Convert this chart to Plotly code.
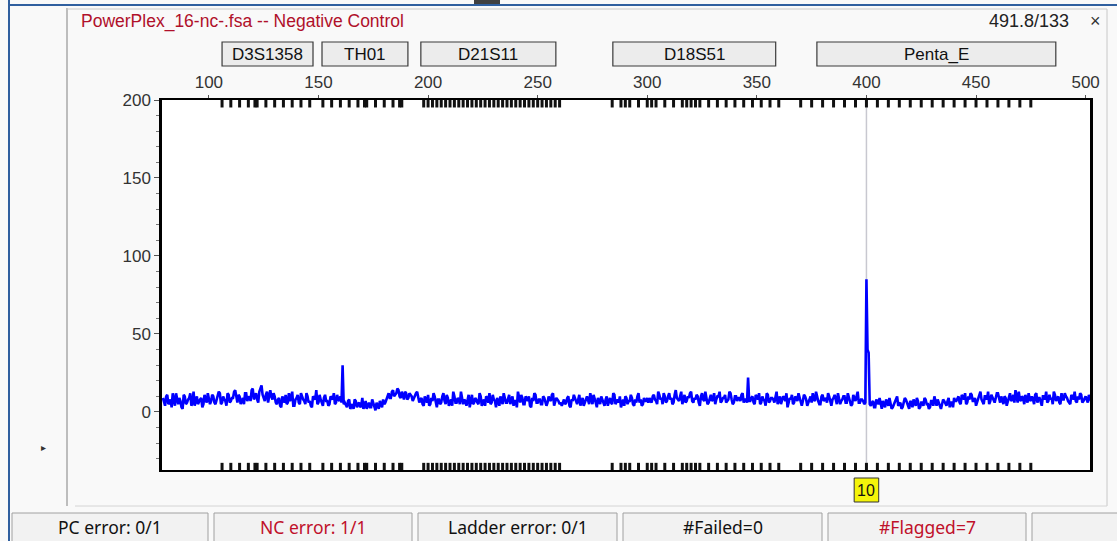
import plotly.graph_objects as go

##### Electropherogram data (bp / RFU) #####
# scan points every 1 bp (values) plus the half-bp points in between (mids)
bp_start = 79
seg_a = [9, 4, 11, 6, 3, 8, 12, 5, 7, 2, 10, 6, 9, 4, 13, 7, 5, 8, 3, 11, 6, 8]
seg_b = [7, 10, 5, 9, 12, 6, 8, 4, 11, 7, 9, 14, 6, 10, 8, 5, 12, 9, 7, 15,
         10, 8, 13, 17, 9, 11, 6, 14, 8, 10]
seg_c = [5, 9, 3, 8, 11, 6, 7, 13, 4, 9, 6, 12, 8, 5, 10, 7, 3, 9, 14, 6,
         8, 4, 11, 7, 5, 9, 12, 6, 8, 10]
spike_1 = [30]
seg_d = [6, 3, 8, 4, 2, 7, 5, 3, 9, 4, 2, 6, 3, 5, 1, 4, 7, 3, 5]
seg_e = [8, 12, 9, 14, 11, 15, 10, 13, 8, 12, 9, 11, 7, 10, 13]
seg_f = [6, 9, 4, 8, 11, 5, 7, 10, 3, 8, 6, 12, 5, 9, 7, 4, 10, 6, 8, 13,
         5, 7, 9, 3, 11, 6, 8, 5, 10, 7, 4, 9, 12, 6, 8, 3, 7, 10, 5, 9,
         6, 11, 8, 4, 7, 13, 6, 9, 5, 8, 10, 3, 7, 11, 6, 8, 5, 9, 4, 10,
         7, 12, 6, 8, 5]
seg_g = [4, 8, 6, 10, 3, 7, 9, 5, 11, 6, 4, 8, 7, 12, 5, 9, 3, 7, 10, 6,
         8, 4, 9, 5, 11, 7, 6, 3, 8, 10, 5, 7, 9, 4, 6, 12, 8, 5, 7, 9]
seg_h = [9, 6, 11, 7, 13, 8, 5, 10, 7, 12, 9, 6, 14, 8, 10, 5, 11, 7, 9, 13,
         6, 8, 10, 4, 12, 7, 9, 6, 11, 8, 5, 10, 13, 7, 9, 6, 8, 12, 5, 10,
         7, 9, 11, 6, 8]
spike_2 = [22]
seg_i = [7, 10, 5, 9, 12, 6, 8, 4, 11, 7, 9, 6, 13, 8, 5, 10, 7, 3, 9, 11,
         6, 8, 12, 5, 7, 10, 4, 9, 6, 8, 13, 7, 5, 11, 8, 6, 10, 4, 9, 7,
         12, 5, 8, 10, 6, 9, 4, 11, 7, 13, 6, 8, 5]
peak_10 = [85, 38]
seg_j = [4, 7, 3, 6, 9, 2, 5, 8, 4, 6, 3, 7, 10, 5, 2, 6, 8, 4, 7, 3,
         5, 9, 2, 6, 4, 8, 5, 3, 7, 10, 4, 6, 2, 8, 5, 7, 3, 6, 9]
seg_k = [7, 10, 5, 9, 12, 6, 8, 11, 7, 4, 9, 13, 6, 10, 8, 5, 11, 7, 9, 12,
         6, 8, 10, 4, 9, 7, 11, 14, 6, 8, 10, 5, 9, 12, 7, 8, 11, 6, 9, 4,
         10, 13, 7, 8, 5, 11, 9, 6, 12, 8, 10, 7, 5, 9, 13, 6, 8, 11, 7, 10,
         6, 9]

mid_a = [6, 10, 5, 8, 12, 4, 7, 9, 3, 11, 5, 8, 12, 6, 4, 10, 7, 9, 5, 8, 12, 5]
mid_b = [11, 6, 8, 13, 5, 10, 7, 12, 6, 9, 13, 8, 11, 5, 9, 12, 7, 10, 14, 8,
         12, 6, 16, 11, 7, 13, 9, 10, 12, 6]
mid_c = [8, 4, 10, 6, 5, 12, 9, 4, 8, 11, 5, 9, 7, 12, 6, 4, 10, 8, 5, 11,
         6, 9, 7, 4, 10, 8, 5, 11, 7, 6]
mid_s1 = [5]
mid_d = [4, 7, 2, 5, 8, 3, 6, 4, 2, 7, 5, 3, 8, 4, 6, 2, 5, 8, 6]
mid_e = [11, 9, 13, 10, 12, 14, 9, 11, 13, 8, 12, 10, 9, 12, 8]
mid_f = [8, 5, 10, 6, 4, 9, 12, 6, 8, 5, 10, 7, 11, 4, 8, 13, 6, 9, 5, 10,
         8, 4, 11, 7, 5, 9, 6, 12, 4, 8, 10, 6, 5, 11, 7, 9, 4, 8, 12, 6,
         9, 5, 10, 7, 3, 8, 11, 5, 10, 7, 4, 9, 12, 6, 8, 5, 10, 7, 6, 8,
         11, 4, 9, 7, 6]
mid_g = [7, 5, 9, 4, 8, 11, 6, 8, 4, 9, 7, 10, 5, 8, 11, 6, 9, 5, 8, 4,
         10, 7, 6, 12, 5, 8, 10, 6, 4, 9, 7, 11, 5, 8, 10, 6, 4, 9, 7, 6]
mid_h = [7, 10, 8, 5, 11, 9, 12, 6, 10, 8, 5, 11, 9, 7, 13, 8, 6, 10, 12, 7,
         9, 11, 6, 10, 8, 13, 5, 9, 7, 12, 8, 10, 6, 9, 11, 7, 13, 8, 6, 10,
         9, 7, 12, 8, 6]
mid_s2 = [7]
mid_i = [9, 6, 11, 8, 5, 10, 7, 12, 6, 9, 8, 11, 5, 10, 7, 9, 12, 6, 8, 5,
         10, 7, 9, 4, 11, 8, 6, 10, 12, 7, 9, 5, 10, 7, 9, 12, 6, 8, 11, 5,
         9, 7, 10, 6, 12, 8, 5, 9, 10, 6, 8, 7, 6]
mid_p = [40, 5]
mid_j = [6, 3, 8, 5, 4, 7, 3, 6, 9, 2, 5, 8, 4, 6, 3, 9, 5, 2, 6, 8,
         4, 7, 3, 6, 9, 5, 2, 7, 4, 6, 8, 3, 5, 7, 4, 9, 6, 3, 7]
mid_k = [9, 6, 11, 8, 5, 10, 12, 7, 9, 6, 11, 8, 5, 10, 13, 7, 9, 6, 12, 8,
         10, 5, 9, 7, 12, 8, 6, 10, 13, 7, 9, 11, 6, 8, 10, 5, 12, 9, 7, 10,
         8, 6, 11, 9, 13, 7, 10, 5, 8, 12, 9, 6, 11, 8, 7, 10, 12, 6, 9, 8,
         11, 7]

rfu_main = (seg_a + seg_b + seg_c + spike_1 + seg_d + seg_e + seg_f + seg_g
            + seg_h + spike_2 + seg_i + peak_10 + seg_j + seg_k)
rfu_mid = (mid_a + mid_b + mid_c + mid_s1 + mid_d + mid_e + mid_f + mid_g
           + mid_h + mid_s2 + mid_i + mid_p + mid_j + mid_k)

bp = []
rfu = []
for k in range(len(rfu_main)):
    bp += [bp_start + k, bp_start + k + 0.5]
    rfu += [rfu_main[k], rfu_mid[k]]

##### Markers and bins #####
marker_names = ["D3S1358", "TH01", "D21S11", "D18S51", "Penta_E"]
marker_lo = [106.0, 151.6, 196.7, 284.3, 377.4]
marker_hi = [147.5, 190.8, 258.3, 358.6, 486.4]

bins = ([106, 110, 114, 118, 121, 122, 126, 130, 134, 138, 142, 146]
        + [152, 156, 160, 164, 168, 171, 172, 176, 180, 184, 187, 188]
        + list(range(198, 261, 2))
        + [284, 288, 290, 292, 296, 300, 302, 304, 308, 312, 316, 318, 320,
           322, 324, 328, 332, 336, 340, 344, 348, 352, 356, 360]
        + list(range(370, 476, 5)))

allele_bp = 400
allele_label = "10"

status_labels = ["PC error: 0/1", "NC error: 1/1", "Ladder error: 0/1",
                 "#Failed=0", "#Flagged=7", ""]
status_colors = ["#111111", "#c0102a", "#111111", "#111111", "#c0102a", "#111111"]
status_edges = [12, 214, 418, 623, 828, 1032, 1117]

W, H = 1117, 541
L, R, T, B = 162, 1090, 100, 470
ymin, ymax = -37.2, 200


# pixel -> paper helpers for the window chrome
def px(x):
    return x / W


def py(y):
    return 1 - y / H


def text(x, y, s, xref="paper", size=17, color="#111", family="Liberation Sans", xanchor="center"):
    return dict(x=x, y=py(y), xref=xref, yref="paper", text=s, showarrow=False,
                xanchor=xanchor, yanchor="middle",
                font=dict(family=family, size=size, color=color))


fig = go.Figure()

fig.add_trace(go.Scatter(x=bp, y=rfu, mode="lines",
                         line=dict(color="#0000ff", width=2.6),
                         hoverinfo="skip", showlegend=False))

# bins at top and bottom edges
for yb in [197.9, -35.3]:
    fig.add_trace(go.Scatter(x=bins, y=[yb] * len(bins), mode="markers",
                             marker=dict(symbol="line-ns-open", size=6, color="#111111",
                                         line=dict(color="#111111", width=3)),
                             cliponaxis=False, hoverinfo="skip", showlegend=False))

shapes = []
ann = []

# allele call line
shapes.append(dict(type="line", xref="x", yref="y", x0=allele_bp, x1=allele_bp,
                   y0=ymin, y1=ymax, line=dict(color="#c8c8d0", width=1.5), layer="below"))

# marker boxes
for name, lo, hi in zip(marker_names, marker_lo, marker_hi):
    shapes.append(dict(type="rect", xref="x", yref="paper", x0=lo, x1=hi, y0=py(42), y1=py(66),
                       fillcolor="#ececec", line=dict(color="#3a3a3a", width=1.2)))
    ann.append(text((lo + hi) / 2, 54, name, xref="x", size=17))

# allele label
shapes.append(dict(type="rect", xref="x", yref="paper", x0=allele_bp - 5.6, x1=allele_bp + 5.6,
                   y0=py(478), y1=py(502), fillcolor="#f4f40a", line=dict(color="#333", width=1)))
ann.append(text(allele_bp, 490, allele_label, xref="x", size=16))


def pline(x0, y0, x1, y1, color, width):
    return dict(type="line", xref="paper", yref="paper", x0=px(x0), x1=px(x1),
                y0=py(y0), y1=py(y1), line=dict(color=color, width=width))


# window chrome
shapes += [
    pline(9, 0, 9, H, "#2f5f9f", 2),
    pline(9, 5, W, 5, "#2f5f9f", 2),
    dict(type="rect", xref="paper", yref="paper", x0=px(474), x1=px(500), y0=py(0), y1=py(4),
         fillcolor="#404040", line=dict(width=0)),
    pline(67, 8, 67, 506, "#a8a8a8", 1.5),
    pline(67, 9, 1107, 9, "#c8c8c8", 1),
    pline(1107, 9, 1107, 506, "#c8c8c8", 1),
    pline(75, 506, 1107, 506, "#d4d4d4", 1),
]
ann.append(text(px(79), 21, "PowerPlex_16-nc-.fsa -- Negative Control",
                color="#b0102a", xanchor="left", size=17.5))
ann.append(text(px(1071), 21, "491.8/133", color="#222", xanchor="right", size=18))
ann.append(text(px(1095), 21, "×", size=18, color="#333"))
ann.append(text(px(43), 447, "▸", size=10, color="#333", family="DejaVu Sans"))

# status bar
for i, (lab, col) in enumerate(zip(status_labels, status_colors)):
    x0, x1 = status_edges[i], status_edges[i + 1] - 6
    if i == len(status_labels) - 1:
        x1 = W + 2
    shapes.append(dict(type="rect", xref="paper", yref="paper", x0=px(x0), x1=px(x1),
                       y0=py(513), y1=py(545), fillcolor="#f2f2f2",
                       line=dict(color="#a0a0a0", width=1)))
    ann.append(text(px((x0 + x1) / 2), 527, lab, color=col, family="Noto Sans", size=17.5))

axis_font = dict(family="Liberation Sans", size=17, color="#333")
fig.update_layout(
    width=W, height=H,
    margin=dict(l=0, r=0, t=0, b=0, autoexpand=False),
    paper_bgcolor="#f9f9f9", plot_bgcolor="#ffffff",
    showlegend=False,
    shapes=shapes, annotations=ann,
    xaxis=dict(domain=[L / W, R / W], range=[78.6, 502], side="top",
               tickvals=[100, 150, 200, 250, 300, 350, 400, 450, 500],
               ticks="outside", ticklen=3, tickcolor="#555", tickfont=axis_font,
               showline=True, linecolor="#000", linewidth=2, mirror=True,
               showgrid=False, zeroline=False),
    yaxis=dict(domain=[1 - B / H, 1 - T / H], range=[ymin, ymax],
               tickvals=[0, 50, 100, 150, 200], ticks="outside", ticklen=5,
               tickcolor="#555", tickfont=axis_font,
               minor=dict(dtick=10, ticks="outside", ticklen=3, tickcolor="#777"),
               showline=True, linecolor="#000", linewidth=2.5, mirror=True,
               showgrid=False, zeroline=False),
)

# pin the graph to the top-left corner of the page
pin = ("document.body.style.margin='0';"
       "var gd=document.getElementById('{plot_id}');"
       "gd.style.position='absolute';gd.style.left='0px';gd.style.top='0px';")
fig.write_html("out.html", post_script=pin, config={"displayModeBar": False})
